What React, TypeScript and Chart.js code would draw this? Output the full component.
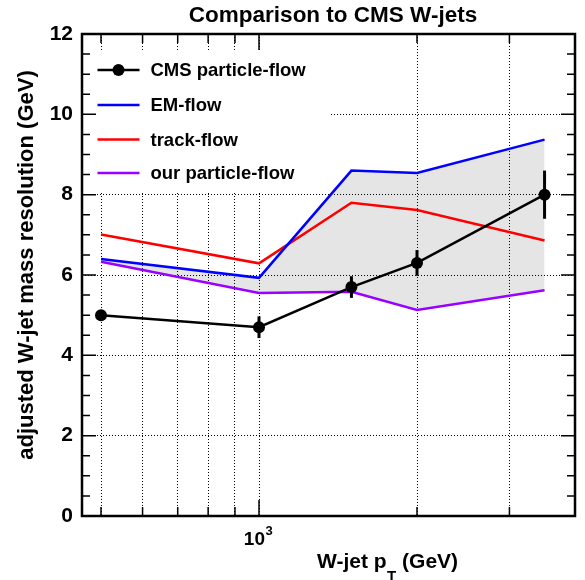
import React, { useEffect, useRef } from 'react';
import { Chart, registerables } from 'chart.js';

Chart.register(...registerables);

// ---- data ----
const ptValues = [500, 1000, 1500, 2000, 3500];
const cmsPF = [5.0, 4.7, 5.7, 6.3, 8.0];
const cmsPFErr = [0.1, 0.27, 0.27, 0.32, 0.6];
const emFlow = [6.4, 5.93, 8.6, 8.54, 9.37];
const trackFlow = [7.01, 6.29, 7.8, 7.62, 6.86];
const ourPF = [6.33, 5.55, 5.58, 5.13, 5.62];

const xTickValues = [500, 600, 700, 800, 900, 1000, 2000, 3000];
const xMajorValue = 1000;
const xLabelBase = '10';
const xLabelExp = '3';
const yTickValues = [0, 2, 4, 6, 8, 10, 12];
const yMinorStep = 0.5;

const seriesNames = ['CMS particle-flow', 'EM-flow', 'track-flow', 'our particle-flow'];
const seriesColors = ['#000000', '#0000ff', '#ff0000', '#9a00ff'];

const titleText = 'Comparison to CMS W-jets';
const yTitleText = 'adjusted W-jet mass resolution (GeV)';
const xTitleParts = ['W-jet p', 'T', ' (GeV)'];

const FONT = '"Liberation Sans", Arial, Helvetica, sans-serif';

const pts = (ys: number[]) => ptValues.map((x, i) => ({ x, y: ys[i] }));

const decor = {
  id: 'decor',
  beforeDatasetsDraw(chart: any) {
    const { ctx, chartArea } = chart;
    ctx.save();
    // legend box
    ctx.fillStyle = '#ffffff';
    ctx.fillRect(chartArea.left + 2, 50, 331 - chartArea.left - 2, 142);
    const rows = [70, 105, 139.5, 173];
    ctx.font = `bold 18.5px ${FONT}`;
    ctx.textBaseline = 'middle';
    ctx.textAlign = 'left';
    seriesNames.forEach((name, i) => {
      const y = rows[i];
      ctx.strokeStyle = seriesColors[i];
      ctx.lineWidth = 2.5;
      ctx.beginPath();
      ctx.moveTo(97.5, y);
      ctx.lineTo(139.5, y);
      ctx.stroke();
      if (i === 0) {
        ctx.fillStyle = '#000';
        ctx.beginPath();
        ctx.arc(118.5, y, 6, 0, Math.PI * 2);
        ctx.fill();
      }
      ctx.fillStyle = '#000';
      ctx.fillText(name, 150.5, y + 1);
    });
    ctx.restore();
  },
  afterDatasetsDraw(chart: any) {
    const { ctx, scales } = chart;
    const xs = scales.x;
    const ys = scales.y;
    ctx.save();
    ctx.strokeStyle = '#000';
    ctx.lineWidth = 3;
    ptValues.forEach((x, i) => {
      const px = xs.getPixelForValue(x);
      ctx.beginPath();
      ctx.moveTo(px, ys.getPixelForValue(cmsPF[i] - cmsPFErr[i]));
      ctx.lineTo(px, ys.getPixelForValue(cmsPF[i] + cmsPFErr[i]));
      ctx.stroke();
    });
    ctx.restore();
  },
  afterDraw(chart: any) {
    const { ctx, chartArea, scales } = chart;
    const { left, right, top, bottom } = chartArea;
    const xs = scales.x;
    const ys = scales.y;
    ctx.save();
    // ticks
    ctx.strokeStyle = '#000';
    ctx.lineWidth = 1.5;
    ctx.beginPath();
    for (let v = ys.min; v <= ys.max + 1e-9; v += yMinorStep) {
      const py = ys.getPixelForValue(v);
      const major = yTickValues.some((t) => Math.abs(t - v) < 1e-9);
      const len = major ? 14 : 8;
      ctx.moveTo(left, py);
      ctx.lineTo(left + len, py);
      ctx.moveTo(right, py);
      ctx.lineTo(right - len, py);
    }
    xTickValues.forEach((v) => {
      const px = xs.getPixelForValue(v);
      const len = v === xMajorValue ? 16 : 9;
      ctx.moveTo(px, bottom);
      ctx.lineTo(px, bottom - len);
      ctx.moveTo(px, top);
      ctx.lineTo(px, top + len);
    });
    ctx.stroke();
    // frame
    ctx.lineWidth = 2.5;
    ctx.strokeRect(left, top, right - left, bottom - top);

    ctx.fillStyle = '#000';
    // title
    ctx.font = `bold 22.5px ${FONT}`;
    ctx.textAlign = 'center';
    ctx.textBaseline = 'alphabetic';
    ctx.fillText(titleText, 333, 22);

    // x label 10^3
    const mx = xs.getPixelForValue(xMajorValue);
    ctx.textAlign = 'left';
    ctx.font = `bold 19px ${FONT}`;
    const wb = ctx.measureText(xLabelBase).width;
    ctx.font = `bold 13px ${FONT}`;
    const we = ctx.measureText(xLabelExp).width;
    const sx = mx - (wb + we) / 2 - 1;
    ctx.font = `bold 19px ${FONT}`;
    ctx.fillText(xLabelBase, sx, 545);
    ctx.font = `bold 13px ${FONT}`;
    ctx.fillText(xLabelExp, sx + wb + 0.5, 534.5);

    // x title
    let tx = 317;
    ctx.font = `bold 21px ${FONT}`;
    ctx.fillText(xTitleParts[0], tx, 568);
    tx += ctx.measureText(xTitleParts[0]).width + 0.5;
    ctx.font = `bold 15px ${FONT}`;
    ctx.fillText(xTitleParts[1], tx, 581);
    tx += ctx.measureText(xTitleParts[1]).width;
    ctx.font = `bold 21px ${FONT}`;
    ctx.fillText(xTitleParts[2], tx, 568);

    // y title
    ctx.translate(33, 265);
    ctx.rotate(-Math.PI / 2);
    ctx.textAlign = 'center';
    ctx.font = `bold 22px ${FONT}`;
    ctx.fillText(yTitleText, 0, 0);
    ctx.restore();
  },
};

export default function App() {
  const ref = useRef<HTMLCanvasElement | null>(null);
  useEffect(() => {
    if (!ref.current) return;
    const gridCommon = { color: '#000', lineWidth: 1, drawTicks: false };
    const chart = new Chart(ref.current, {
      type: 'line',
      data: {
        datasets: [
          {
            label: seriesNames[0],
            data: pts(cmsPF),
            borderColor: seriesColors[0],
            backgroundColor: seriesColors[0],
            borderWidth: 2.5,
            pointRadius: 6,
            pointBackgroundColor: '#000',
            pointBorderWidth: 0,
            fill: false,
          },
          {
            label: seriesNames[1],
            data: pts(emFlow),
            borderColor: seriesColors[1],
            backgroundColor: 'rgba(0,0,0,0.1)',
            borderWidth: 2.5,
            pointRadius: 0,
            fill: 3,
          },
          {
            label: seriesNames[2],
            data: pts(trackFlow),
            borderColor: seriesColors[2],
            borderWidth: 2.5,
            pointRadius: 0,
            fill: false,
          },
          {
            label: seriesNames[3],
            data: pts(ourPF),
            borderColor: seriesColors[3],
            borderWidth: 2.5,
            pointRadius: 0,
            fill: false,
          },
        ],
      },
      options: {
        responsive: false,
        animation: false,
        events: [],
        layout: { padding: { top: 34, right: 10, left: 0, bottom: 0 } },
        plugins: {
          legend: { display: false },
          title: { display: false },
          tooltip: { enabled: false },
          filler: { drawTime: 'beforeDatasetsDraw' },
        },
        scales: {
          x: {
            type: 'logarithmic',
            min: 460,
            max: 4000,
            afterBuildTicks: (s: any) => {
              s.ticks = xTickValues.map((v) => ({ value: v }));
            },
            afterFit: (s: any) => {
              s.height = 64;
            },
            ticks: { display: false },
            grid: gridCommon,
            border: { display: false, dash: [1, 2] },
          },
          y: {
            min: 0,
            max: 12,
            afterBuildTicks: (s: any) => {
              s.ticks = yTickValues.map((v) => ({ value: v }));
            },
            afterFit: (s: any) => {
              s.width = 82;
            },
            ticks: {
              color: '#000',
              padding: 9,
              font: { family: FONT, weight: 'bold', size: 21 },
            },
            grid: gridCommon,
            border: { display: false, dash: [1, 2] },
          },
        },
      } as any,
      plugins: [decor],
    });
    return () => chart.destroy();
  }, []);
  return (
    <div style={{ position: 'fixed', left: 0, top: 0, width: 585, height: 580, background: '#fff' }}>
      <canvas ref={ref} width={585} height={580} style={{ display: 'block' }} />
    </div>
  );
}
